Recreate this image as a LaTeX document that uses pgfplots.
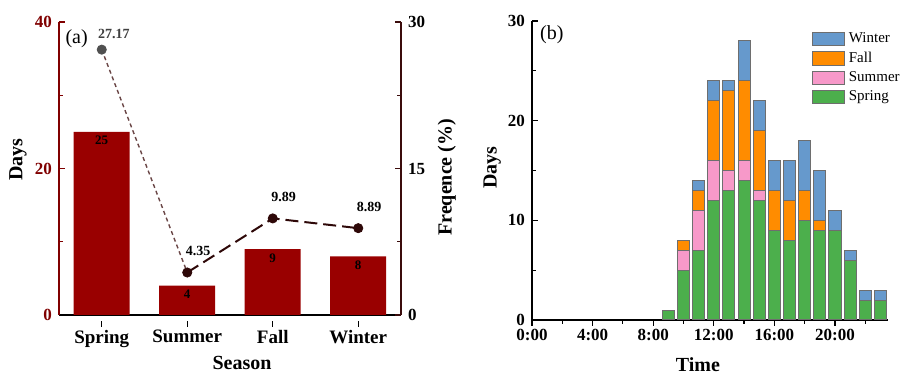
\documentclass[border=0pt]{standalone}
\usepackage{fontspec}
\setmainfont{Liberation Serif}
\usepackage{pgfplots}
\pgfplotsset{compat=1.18}

\definecolor{barred}{HTML}{990000}
\definecolor{leftax}{HTML}{800000}
\definecolor{rightax}{HTML}{3B0C0C}
\definecolor{linedark}{HTML}{2E0808}
\definecolor{linemid}{HTML}{6A4646}
\definecolor{markgrey}{HTML}{505050}
\definecolor{cwin}{HTML}{6699CC}
\definecolor{cfall}{HTML}{FF8C00}
\definecolor{csum}{HTML}{F799C9}
\definecolor{cspr}{HTML}{4CAF4C}
\definecolor{edge}{HTML}{6E6E6E}

\newcommand{\numfont}{\bfseries\fontsize{8.5}{9}\selectfont}
\newcommand{\catfont}{\bfseries\fontsize{9.5}{10}\selectfont}
\newcommand{\labfont}{\bfseries\fontsize{10}{11}\selectfont}

\pgfplotstableread{
x  spr sum fal win
9  1   0   0   0
10 5   2   1   0
11 7   4   2   1
12 12  4   6   2
13 13  2   8   1
14 14  2   8   4
15 12  1   6   3
16 9   0   4   3
17 8   0   4   4
18 10  0   3   5
19 9   0   1   5
20 9   0   0   2
21 6   0   0   1
22 2   0   0   1
23 2   0   0   1
}\hourly

\begin{document}
\begin{tikzpicture}
\useasboundingbox (0,0) rectangle (451pt,187pt);
% ---------- panel (a): bars ----------
\begin{axis}[
  at={(29.5pt,29.5pt)}, anchor=south west,
  scale only axis, width=171pt, height=146.5pt,
  xmin=-0.5, xmax=3.5, ymin=0, ymax=40,
  axis x line*=bottom, axis y line*=left,
  axis line style={-},
  x axis line style={black, line width=0.8pt},
  y axis line style={leftax, line width=0.8pt},
  xtick={0,1,2,3}, xticklabels={Spring,Summer,Fall,Winter},
  ytick={0,20,40}, minor ytick={10,30},
  tick align=inside,
  major tick length=3pt, minor tick length=2pt,
  x tick style={black, line width=0.6pt, yshift=-3pt},
  y tick style={leftax, line width=0.6pt},
  /pgf/number format/assume math mode=true,
  xticklabel style={font=\catfont, yshift=-1pt},
  yticklabel style={font=\numfont, text=leftax},
  xlabel={Season}, ylabel={Days},
  every axis x label/.style={at={(axis description cs:0.535,-0.165)}, anchor=center, font=\labfont},
  every axis y label/.style={at={(axis description cs:-0.12,0.53)}, anchor=center, rotate=90, font=\labfont},
  ybar, bar width=28pt,
  nodes near coords,
  every node near coord/.append style={anchor=north, font=\bfseries\fontsize{6.5}{7}\selectfont, text=black, inner sep=2pt},
  clip=false,
]
\addplot[fill=barred, draw=none] coordinates {(0,25) (1,4) (2,9) (3,8)};
\node[anchor=north west, font=\fontsize{10}{11}\selectfont, inner sep=0pt] at (axis description cs:0.018,0.975) {(a)};
\end{axis}
% ---------- panel (a): frequency line ----------
\begin{axis}[
  at={(29.5pt,29.5pt)}, anchor=south west,
  scale only axis, width=171pt, height=146.5pt,
  xmin=-0.5, xmax=3.5, ymin=0, ymax=30,
  axis x line=none, axis y line*=right,
  axis line style={-},
  y axis line style={rightax, line width=0.8pt},
  ytick={0,15,30}, minor ytick={7.5,22.5},
  tick align=inside,
  major tick length=3pt, minor tick length=2pt,
  y tick style={rightax, line width=0.6pt},
  /pgf/number format/assume math mode=true,
  yticklabel style={font=\numfont, text=black},
  ylabel={Freqence (\%)},
  every axis y label/.style={at={(axis description cs:1.134,0.47)}, anchor=center, rotate=90, font=\labfont},
  clip=false,
]
\addplot[linemid, line width=0.7pt, dash pattern=on 2pt off 1.6pt] coordinates {(0,27.17) (1,4.35)};
\addplot[linedark, line width=1pt, dash pattern=on 6.5pt off 3pt] coordinates {(1,4.35) (2,9.89) (3,8.89)};
\addplot[only marks, mark=*, mark size=2.3pt, markgrey,
  nodes near coords, point meta=explicit symbolic,
  every node near coord/.append style={anchor=south, xshift=6pt, yshift=4.5pt, inner sep=1pt, text=markgrey!80!black, font=\bfseries\fontsize{7}{8}\selectfont}]
  coordinates {(0,27.17) [27.17]};
\addplot[only marks, mark=*, mark size=2.3pt, linedark,
  nodes near coords, point meta=explicit symbolic,
  every node near coord/.append style={anchor=south, xshift=5.5pt, yshift=7pt, inner sep=1pt, text=black, font=\bfseries\fontsize{7}{8}\selectfont}]
  coordinates {(1,4.35) [4.35] (2,9.89) [9.89] (3,8.89) [8.89]};
\end{axis}
% ---------- panel (b) ----------
\begin{axis}[
  at={(266pt,27pt)}, anchor=south west,
  scale only axis, width=178pt, height=149.5pt,
  xmin=0, xmax=23.5, ymin=0, ymax=30,
  axis x line*=bottom, axis y line*=left,
  axis line style={-, black, line width=0.8pt},
  xtick={0,4,8,12,16,20}, xticklabels={0:00,4:00,8:00,12:00,16:00,20:00},
  minor xtick={2,6,10,14,18,22},
  ytick={0,10,20,30}, minor ytick={5,15,25},
  tick align=inside,
  major tick length=3pt, minor tick length=2pt,
  x tick style={black, line width=0.6pt, yshift=-3pt},
  minor x tick style={yshift=1pt},
  y tick style={black, line width=0.6pt},
  /pgf/number format/assume math mode=true,
  xticklabel style={font=\numfont, yshift=-1pt},
  yticklabel style={font=\numfont},
  xlabel={Time}, ylabel={Days},
  every axis x label/.style={at={(axis description cs:0.466,-0.15)}, anchor=center, font=\labfont},
  every axis y label/.style={at={(axis description cs:-0.112,0.51)}, anchor=center, rotate=90, font=\labfont},
  ybar stacked, bar width=0.8,
  legend cell align=left,
  legend style={draw=none, fill=none, at={(axis description cs:0.785,0.975)}, anchor=north west,
    font=\fontsize{7.5}{8.5}\selectfont, row sep=-1pt, inner sep=0pt,
    /tikz/every even column/.append style={column sep=2.5pt}},
  legend image code/.code={\draw[#1] (0pt,-3.3pt) rectangle (16pt,3.3pt);},
  reverse legend,
  clip=false,
]
\addplot[fill=cspr, draw=edge, line width=0.5pt] table[x=x, y=spr] {\hourly};
\addplot[fill=csum, draw=edge, line width=0.5pt] table[x=x, y=sum] {\hourly};
\addplot[fill=cfall, draw=edge, line width=0.5pt] table[x=x, y=fal] {\hourly};
\addplot[fill=cwin, draw=edge, line width=0.5pt] table[x=x, y=win] {\hourly};
\legend{Spring,Summer,Fall,Winter}
\node[anchor=north west, font=\fontsize{10}{11}\selectfont, inner sep=0pt] at (axis description cs:0.022,0.985) {(b)};
\end{axis}
\end{tikzpicture}
\end{document}
